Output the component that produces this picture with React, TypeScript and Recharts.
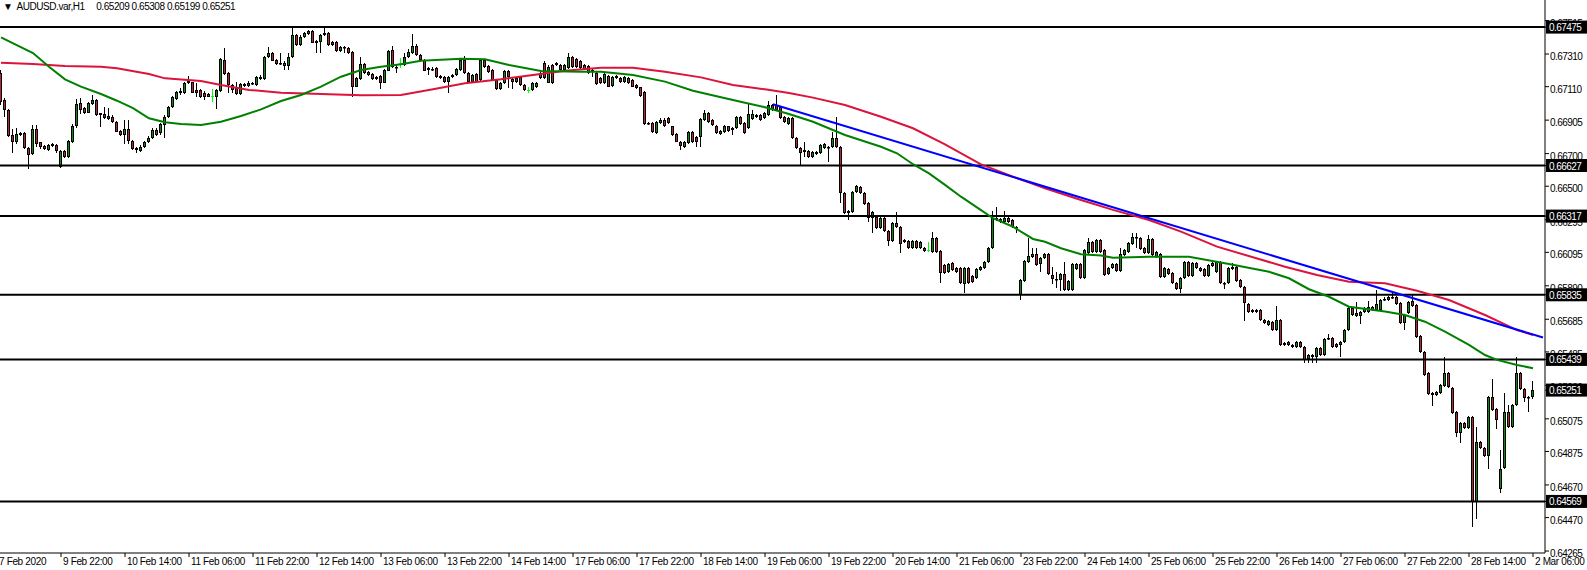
import React from "react";
import { ComposedChart, Bar, Line, XAxis, YAxis, ReferenceLine } from "recharts";

// time axis labels, one every 16 hourly bars
const TIME_LABELS = [
  "7 Feb 2020", "9 Feb 22:00", "10 Feb 14:00", "11 Feb 06:00", "11 Feb 22:00",
  "12 Feb 14:00", "13 Feb 06:00", "13 Feb 22:00", "14 Feb 14:00", "17 Feb 06:00",
  "17 Feb 22:00", "18 Feb 14:00", "19 Feb 06:00", "19 Feb 22:00", "20 Feb 14:00",
  "21 Feb 06:00", "23 Feb 22:00", "24 Feb 14:00", "25 Feb 06:00", "25 Feb 22:00",
  "26 Feb 14:00", "27 Feb 06:00", "27 Feb 22:00", "28 Feb 14:00", "2 Mar 06:00",
];
const TICK_STEP = 16;

const PRICE_TICKS = [
  0.67515, 0.6731, 0.6711, 0.66905, 0.667, 0.665, 0.66295, 0.66095, 0.6589,
  0.65685, 0.65485, 0.6528, 0.65075, 0.64875, 0.6467, 0.6447, 0.64265,
];

// horizontal support / resistance levels
const LEVELS = [0.67475, 0.66627, 0.66317, 0.65835, 0.65439, 0.64569];
const LAST_PRICE = 0.65251;

// H1 candles, [open, high, low, close] in pips (x 0.0001)
const CANDLES: number[][] = [
  [6716, 6721, 6714, 6719.6], [6719.6, 6721, 6700, 6701.9], [6702.9, 6704, 6692.3, 6696.8], [6696.8, 6697.5, 6680, 6681],
  [6681.5, 6684.9, 6670.2, 6676.8], [6676.8, 6685.5, 6675.9, 6681.9], [6681.5, 6683.5, 6680.5, 6682.5], [6682.5, 6683.5, 6672.7, 6673.3],
  [6673.7, 6674.3, 6660.6, 6669.2], [6669.8, 6687.4, 6669, 6684.9], [6684.9, 6687.4, 6674.3, 6675.9], [6676.8, 6677.4, 6673, 6673.9],
  [6674.7, 6675.5, 6672, 6672.7], [6672.3, 6676, 6671.5, 6675.3], [6674.7, 6676.5, 6674, 6675.9], [6675.3, 6676, 6670.5, 6671.6],
  [6662, 6672.3, 6661, 6671.6], [6671.6, 6672.5, 6667, 6668.2], [6668.2, 6678.5, 6667.5, 6677.8], [6677.4, 6688, 6676.5, 6687],
  [6686.6, 6703.7, 6685.5, 6700.4], [6700.9, 6703.9, 6694.1, 6696.8], [6697.8, 6698.5, 6694.5, 6695.1], [6695.1, 6701.9, 6694.7, 6700.9],
  [6700.4, 6706, 6700, 6702.9], [6702.9, 6703.5, 6693, 6693.5], [6694.7, 6695.1, 6686.2, 6693.7], [6694.3, 6698.4, 6691.1, 6691.7],
  [6691.1, 6697.8, 6690.6, 6693.1], [6692.7, 6693.5, 6688.6, 6689.2], [6689.6, 6690.2, 6683, 6683.5], [6683.9, 6684.5, 6680.5, 6681.3],
  [6681.3, 6690.6, 6675.9, 6685.3], [6685.3, 6690.6, 6676, 6678], [6678, 6678.5, 6672, 6672.7], [6673.3, 6673.8, 6670.2, 6671.9],
  [6671.6, 6675, 6671, 6674.3], [6674.1, 6677.5, 6673.5, 6677], [6677, 6680.5, 6676.5, 6679.8], [6679.4, 6685.5, 6679, 6684.5],
  [6684.5, 6685.5, 6681, 6681.5], [6682.5, 6688.6, 6681.5, 6688], [6687.6, 6693.5, 6679.4, 6692.7], [6692.3, 6699, 6692, 6698.4],
  [6698.4, 6705.3, 6698, 6704.5], [6703.5, 6708.6, 6703, 6708], [6707.4, 6710, 6706, 6708.6], [6707, 6713.7, 6706.6, 6713.1],
  [6714.5, 6717.6, 6712.7, 6713.1], [6713.7, 6714.1, 6707, 6707.4], [6709, 6713.1, 6704.5, 6707.4], [6709, 6709.5, 6704, 6704.5],
  [6707.4, 6708.6, 6702.9, 6704.5], [6704.9, 6707.4, 6704.5, 6706.6], [6705, 6709.4, 6701.9, 6705], [6704.9, 6709.5, 6697.2, 6709],
  [6708.6, 6728.5, 6708, 6727.8], [6727.4, 6734.5, 6718, 6718.8], [6719.2, 6719.8, 6707.4, 6712.1], [6712.1, 6712.7, 6707.4, 6709],
  [6710, 6713.7, 6706, 6706.6], [6706.6, 6713, 6706, 6712.5], [6712.5, 6713.5, 6711, 6711.7], [6711.5, 6714.5, 6711, 6713.1],
  [6713.1, 6713.7, 6712, 6712.7], [6712.1, 6717.6, 6711.5, 6716.8], [6715.6, 6718.2, 6715, 6717.2], [6715.6, 6729.6, 6715, 6729],
  [6729, 6735.2, 6728.5, 6731.5], [6731.5, 6732, 6726.5, 6727], [6727.4, 6728, 6724.3, 6724.9], [6725.8, 6731.9, 6724.3, 6725.2],
  [6725.8, 6726.5, 6721.3, 6723.9], [6723.9, 6731.9, 6721.3, 6729], [6729, 6746.8, 6728.5, 6742.7], [6742.7, 6743.5, 6736, 6736.6],
  [6736.6, 6742.5, 6736, 6741.7], [6741.3, 6744.5, 6740.8, 6743.7], [6743.3, 6745.8, 6742.8, 6745.4], [6745.4, 6746, 6737.5, 6738],
  [6739, 6739.5, 6731.5, 6738], [6738.6, 6743.3, 6731.5, 6742.7], [6742.7, 6748.2, 6742, 6744.1], [6743.7, 6744.5, 6736, 6736.6],
  [6738.6, 6739, 6736, 6736.6], [6738.6, 6739, 6732.5, 6733.1], [6733.1, 6736.2, 6732.5, 6735.6], [6735.2, 6736, 6731.5, 6734.5],
  [6734.5, 6735, 6731.3, 6731.9], [6732.5, 6733, 6704.9, 6711.1], [6711.1, 6716.8, 6710.5, 6716.2], [6715.8, 6729, 6715.2, 6724.7],
  [6724.9, 6725.5, 6718.6, 6719.2], [6720.2, 6720.8, 6717.6, 6718.2], [6718.8, 6719.4, 6715, 6715.6], [6717.2, 6717.8, 6715, 6715.6],
  [6717.6, 6718.2, 6709.4, 6713.5], [6713.5, 6722, 6713, 6721.3], [6720.9, 6733.5, 6720.3, 6732.9], [6733.5, 6736, 6722.7, 6723.3],
  [6723.3, 6724, 6719.2, 6722.5], [6725.4, 6728.4, 6722.3, 6725.4], [6724.3, 6731.5, 6723.7, 6729.4], [6729, 6733.9, 6728.4, 6732.5],
  [6731.9, 6743.3, 6731.3, 6736], [6736, 6737, 6730, 6730.5], [6730.5, 6731, 6726.8, 6727.4], [6727.4, 6728, 6720.3, 6720.9],
  [6721.3, 6722.9, 6718.2, 6722.3], [6722, 6723.3, 6720.8, 6721.3], [6722.3, 6723, 6716.6, 6717.2], [6717.6, 6718.2, 6715.6, 6716.2],
  [6716.8, 6717.4, 6713.5, 6714.1], [6714.1, 6717.4, 6707.4, 6716.8], [6716.8, 6718.8, 6716.2, 6718.2], [6718, 6722.3, 6717.4, 6721.7],
  [6721.3, 6728, 6720.8, 6727.4], [6727.4, 6729.8, 6719, 6719.6], [6719.6, 6720.2, 6713.5, 6714.1], [6714.1, 6718.8, 6713.5, 6718.2],
  [6718.8, 6719.4, 6713.5, 6714.1], [6715.1, 6728, 6714.5, 6727.4], [6727.4, 6728, 6722.7, 6723.3], [6723.7, 6724.3, 6719.6, 6720.2],
  [6721.3, 6721.9, 6714.5, 6715.1], [6715.1, 6715.7, 6708.8, 6709.4], [6709.4, 6713.7, 6708.8, 6713.1], [6713.1, 6721.5, 6712.5, 6720.9],
  [6720.9, 6721.5, 6710, 6717.2], [6715.6, 6716.2, 6709.4, 6714.1], [6714.1, 6716.8, 6713.5, 6716.2], [6716.8, 6717.4, 6711.5, 6712.1],
  [6712.1, 6712.7, 6708.4, 6709], [6709, 6711.1, 6707.4, 6709], [6709, 6713.7, 6708.4, 6713.1], [6710.6, 6714.1, 6710, 6713.5],
  [6716.2, 6719.8, 6715.6, 6719.2], [6725.4, 6727, 6715.6, 6716.2], [6713.5, 6724, 6713, 6723.3], [6724.3, 6725, 6712.5, 6713.1],
  [6724.3, 6726, 6723.7, 6725.4], [6724.3, 6725, 6720.7, 6721.3], [6721.3, 6725, 6720.7, 6724.3], [6722.3, 6731.9, 6721.7, 6729],
  [6729, 6729.6, 6722.7, 6723.3], [6727.8, 6728.4, 6722.3, 6722.9], [6727, 6727.6, 6721.7, 6722.3], [6724.3, 6724.9, 6721.1, 6721.7],
  [6723.7, 6724.3, 6719, 6719.6], [6721.3, 6721.9, 6717.2, 6720.2], [6719.6, 6720.2, 6712.1, 6712.7], [6716.2, 6716.8, 6712.5, 6713.1],
  [6713.5, 6719.4, 6712.9, 6718.8], [6717.6, 6718.2, 6710.5, 6711.1], [6711.5, 6717.8, 6711, 6717.2], [6716.2, 6718.2, 6715.6, 6717.6],
  [6716.2, 6716.8, 6713.5, 6714.1], [6714.1, 6717.4, 6713.5, 6716.8], [6716.2, 6716.8, 6712.9, 6713.5], [6715.1, 6715.7, 6710.5, 6711.1],
  [6712.1, 6712.7, 6709.4, 6710], [6710.6, 6711.1, 6704.7, 6705.3], [6707.8, 6708.4, 6687.6, 6688.2], [6688.6, 6689.2, 6687.6, 6688.2],
  [6688.6, 6689.2, 6682.9, 6683.5], [6682.9, 6690.2, 6682.3, 6689.6], [6689, 6692, 6688.4, 6690.6], [6690.6, 6691.7, 6686.4, 6687],
  [6691.7, 6692.3, 6688, 6688.6], [6686.6, 6687.2, 6680.9, 6681.5], [6681.9, 6682.5, 6676.8, 6677.4], [6677.4, 6678, 6672.3, 6674.7],
  [6674.3, 6678, 6673.7, 6677.4], [6676.3, 6684.1, 6675.7, 6683.5], [6683.5, 6684.1, 6676.2, 6676.8], [6680, 6680.6, 6674.3, 6676.8],
  [6680, 6691.7, 6674.3, 6691.1], [6690.6, 6696.8, 6690, 6694.7], [6694.7, 6695.3, 6689, 6689.6], [6690.6, 6691.2, 6687, 6687.6],
  [6687, 6687.6, 6682.3, 6682.9], [6681.9, 6684.5, 6681.3, 6683.9], [6683.5, 6687.6, 6682.9, 6687], [6686.6, 6687.2, 6683.3, 6683.9],
  [6685.5, 6686.1, 6681.3, 6684.5], [6685.5, 6693.3, 6684.9, 6692.7], [6692.7, 6693.3, 6687.6, 6688.2], [6689, 6689.6, 6681.9, 6682.5],
  [6685.5, 6700.4, 6684.9, 6694.1], [6691.1, 6696.8, 6690.5, 6694.1], [6692.7, 6694.3, 6692, 6693.7], [6693.7, 6694.3, 6690, 6690.6],
  [6691.7, 6695.3, 6691, 6694.7], [6693.7, 6702.5, 6693.1, 6699.8], [6699.8, 6700.4, 6696.2, 6696.8], [6699.8, 6706, 6696.2, 6696.8],
  [6698.8, 6699.4, 6691.1, 6691.7], [6692.7, 6693.3, 6689, 6689.6], [6687.9, 6692.6, 6687.3, 6692], [6691.6, 6692.2, 6678.7, 6679.3],
  [6679.3, 6679.9, 6672.6, 6673.2], [6673.6, 6674.2, 6663, 6670.5], [6672.2, 6677.3, 6668.1, 6671.2], [6671.6, 6672.2, 6667.5, 6668.1],
  [6668.1, 6671.8, 6667.5, 6671.2], [6669.5, 6671.8, 6668.9, 6671.2], [6670.1, 6675.8, 6669.5, 6675.2], [6673.6, 6676.3, 6673, 6675.7],
  [6674.2, 6674.8, 6665, 6673.2], [6674.2, 6683.4, 6673.6, 6679.3], [6679.3, 6692.6, 6673.6, 6674.2], [6674.2, 6674.8, 6639.5, 6645.6],
  [6645.6, 6646.2, 6632.8, 6633.4], [6634.8, 6635.4, 6629.3, 6633.8], [6634.4, 6647.3, 6633.8, 6646.7], [6646.7, 6651, 6646, 6650.3],
  [6649.7, 6650.3, 6645, 6645.6], [6645.6, 6646.2, 6638.3, 6638.9], [6639.5, 6640.1, 6628.3, 6630.7], [6630.7, 6635, 6621.1, 6634.4],
  [6631.3, 6632, 6623.6, 6624.2], [6624.6, 6631.3, 6624, 6630.7], [6630.7, 6631.3, 6622, 6622.6], [6622.6, 6623.2, 6613.6, 6616.4],
  [6616.4, 6627.9, 6615.8, 6627.3], [6627.7, 6634.4, 6624.6, 6625.2], [6625.2, 6625.8, 6608.9, 6614.4], [6617, 6617.6, 6615.4, 6616],
  [6616.4, 6617, 6611.7, 6612.3], [6612.3, 6617, 6611.7, 6616.4], [6616.4, 6617, 6611.3, 6611.9], [6611.9, 6616.6, 6611.3, 6616],
  [6611.9, 6612.5, 6609.7, 6610.3], [6611, 6616, 6609.9, 6611], [6609.9, 6622.2, 6609.3, 6618.1], [6618.1, 6618.7, 6609.3, 6609.9],
  [6610.3, 6610.9, 6590.5, 6596.6], [6601.7, 6602.3, 6596, 6596.6], [6597.2, 6602.7, 6596.6, 6602.1], [6602.8, 6603.4, 6598.1, 6598.7],
  [6599.7, 6600.3, 6597, 6597.6], [6599.7, 6600.3, 6589.9, 6590.5], [6589.9, 6600.7, 6584.4, 6600.1], [6600.1, 6600.7, 6589.9, 6590.5],
  [6595.2, 6595.8, 6590.9, 6591.5], [6594, 6599.9, 6593.4, 6599.3], [6598.7, 6601.3, 6598.1, 6600.7], [6600.1, 6604.4, 6599.5, 6603.8],
  [6603.8, 6612.5, 6603.2, 6611.9], [6611.9, 6634.8, 6611.3, 6630.3], [6630.3, 6637.5, 6628.7, 6629.3], [6629.9, 6630.5, 6627.7, 6628.3],
  [6628.3, 6634.8, 6627.7, 6630.3], [6630.3, 6630.9, 6627.3, 6627.9], [6629.3, 6629.9, 6624.6, 6625.2], [6625.2, 6625.8, 6621.1, 6624.2],
  [6583.4, 6593.1, 6580.3, 6592.5], [6591.9, 6604.8, 6591.3, 6604.2], [6603.8, 6618.5, 6603.2, 6607.5], [6606.8, 6611.9, 6606.2, 6608.3],
  [6608.3, 6611.9, 6601.1, 6601.7], [6602.1, 6606.8, 6597.6, 6606.2], [6605.8, 6608.9, 6605.2, 6608.3], [6608.3, 6608.9, 6595.4, 6596],
  [6595.6, 6600.7, 6589.9, 6592.9], [6593, 6597.6, 6587.4, 6592.5], [6592.5, 6596.6, 6585.8, 6596], [6596, 6603.8, 6585.8, 6586.4],
  [6586.4, 6592.5, 6585.8, 6591.9], [6586.4, 6602.7, 6585.8, 6602.1], [6599.3, 6602.7, 6598.7, 6602.1], [6602.1, 6602.7, 6593.4, 6594],
  [6594, 6611.5, 6593.4, 6610.9], [6608.9, 6618.1, 6608.3, 6615.6], [6616, 6616.6, 6609.3, 6609.9], [6609.9, 6617.6, 6609.3, 6617],
  [6617, 6617.6, 6609.3, 6609.9], [6610.9, 6611.5, 6595, 6595.6], [6596, 6600.7, 6595.4, 6600.1], [6599.7, 6602.7, 6599.1, 6602.1],
  [6602.1, 6602.7, 6597.5, 6598.1], [6598.1, 6611.9, 6597.5, 6608.3], [6607.9, 6611.5, 6607.3, 6610.9], [6609.9, 6615.6, 6609.3, 6615],
  [6614.4, 6621.1, 6613.8, 6619.1], [6619.1, 6621.1, 6611.9, 6618.1], [6618.5, 6619.1, 6610.9, 6611.5], [6611.9, 6612.5, 6608.3, 6608.9],
  [6608.9, 6620.3, 6608.3, 6617.7], [6617.7, 6618.3, 6607.3, 6607.9], [6606.8, 6610.5, 6606.2, 6609.9], [6608.3, 6608.9, 6594, 6594.6],
  [6594.6, 6600.3, 6594, 6599.7], [6599.3, 6599.9, 6595.4, 6596], [6596.7, 6597.3, 6589.9, 6590.5], [6590.9, 6591.5, 6586.3, 6586.9],
  [6586.9, 6594.2, 6584.8, 6593.6], [6593.6, 6604.4, 6593, 6603.8], [6603.8, 6604.4, 6594.4, 6595], [6595, 6603.4, 6594.4, 6602.8],
  [6602.8, 6603.4, 6599.1, 6599.7], [6599.7, 6600.3, 6597.7, 6598.3], [6599.1, 6599.7, 6594.4, 6595], [6595, 6602.4, 6594.4, 6601.8],
  [6602.8, 6604.8, 6600.5, 6601.1], [6597.7, 6604.4, 6597.1, 6603.8], [6603.8, 6604.4, 6589.9, 6590.5], [6590.9, 6591.5, 6586.9, 6590.5],
  [6590.9, 6600.3, 6590.3, 6599.7], [6599.1, 6602.8, 6598.5, 6600.7], [6600.7, 6601.3, 6591.6, 6592.2], [6592.6, 6593.2, 6587.9, 6588.5],
  [6588.5, 6589.1, 6567.7, 6578.3], [6577.9, 6578.5, 6572.6, 6573.2], [6573.2, 6575, 6572.6, 6574.2], [6574.2, 6574.8, 6572.6, 6573.2],
  [6574.2, 6574.8, 6567.5, 6568.1], [6568.1, 6568.7, 6565.8, 6566.4], [6565, 6568.3, 6564.4, 6567.7], [6567, 6567.6, 6561.3, 6561.9],
  [6561.9, 6576.6, 6561.3, 6568.1], [6568.1, 6568.7, 6552.2, 6552.8], [6552.8, 6554.8, 6552.2, 6554.2], [6554.8, 6555.4, 6552.2, 6552.8],
  [6552.8, 6553.4, 6550.7, 6551.3], [6551.3, 6555.4, 6550.7, 6554.8], [6554.8, 6555.4, 6551.1, 6551.7], [6551.7, 6552.3, 6541.5, 6543.6],
  [6544, 6547.2, 6541.5, 6546.6], [6546.6, 6547.2, 6541.9, 6545.6], [6545.6, 6551.3, 6541.5, 6550.7], [6550.7, 6551.3, 6546, 6546.6],
  [6546.6, 6556.8, 6546, 6556.2], [6556.2, 6559.5, 6555.6, 6556.8], [6556.8, 6557.4, 6551.1, 6551.7], [6553.2, 6553.8, 6550.7, 6551.3],
  [6552.8, 6555.4, 6545.2, 6554.8], [6554.8, 6562.5, 6554.2, 6561.9], [6561.9, 6575.8, 6561.3, 6575.2], [6575.2, 6575.8, 6570.5, 6571.1],
  [6572.6, 6579.3, 6569.9, 6570.5], [6570.5, 6573.8, 6565.6, 6573.2], [6573.2, 6575.8, 6572.6, 6575.2], [6573.2, 6579.9, 6572.6, 6576.2],
  [6576.2, 6576.8, 6573.6, 6574.2], [6574.2, 6586.4, 6573.6, 6577.9], [6574.2, 6580.9, 6573.6, 6580.3], [6580.3, 6582.4, 6579.7, 6580.7],
  [6580.3, 6583, 6579.7, 6582.4], [6582.4, 6585, 6580.8, 6581.4], [6582.4, 6583, 6577.3, 6577.9], [6578.7, 6579.3, 6565.4, 6566],
  [6566, 6571.7, 6561.9, 6571.1], [6572.1, 6579.9, 6571.5, 6579.3], [6579.9, 6583.4, 6576, 6576.6], [6577.2, 6577.8, 6557.3, 6557.9],
  [6558.3, 6558.9, 6548.1, 6548.7], [6548.7, 6549.3, 6533.8, 6534.4], [6535.4, 6536, 6522.1, 6522.7], [6523.6, 6524.2, 6515.4, 6522.1],
  [6522.1, 6524.8, 6521.5, 6524.2], [6523.6, 6528.8, 6523, 6528.2], [6527.6, 6545.2, 6527, 6535.4], [6535.4, 6536, 6526.2, 6526.8],
  [6526.2, 6526.8, 6510.7, 6511.3], [6511.9, 6512.5, 6496.6, 6499], [6499, 6505.4, 6492.9, 6504.8], [6504.8, 6505.4, 6501.1, 6501.7],
  [6501.7, 6509.4, 6501.1, 6508.8], [6508.8, 6509.4, 6441, 6456.8], [6456.8, 6502.7, 6446, 6493.5], [6493.5, 6494.1, 6488.8, 6489.4],
  [6489.4, 6490, 6484.2, 6484.8], [6484.8, 6521.7, 6476.6, 6521.1], [6521.1, 6531.7, 6512.3, 6512.9], [6513.3, 6513.9, 6501.1, 6506.8],
  [6464.3, 6488.4, 6461.9, 6476.6], [6477.2, 6523.6, 6476.6, 6511.9], [6511.9, 6516, 6502.1, 6502.7], [6502.7, 6516.6, 6502.1, 6516],
  [6516, 6545.6, 6515.4, 6535.4], [6535.4, 6536, 6525, 6525.6], [6525.6, 6526.2, 6518, 6520.1], [6520.7, 6521.3, 6511.9, 6520.1],
  [6520.9, 6530.8, 6519.9, 6525.1],
];

// moving averages: [bar index, pips]
const GREEN_MA = [
  [1, 6741.2], [9, 6731.6], [13, 6723.2], [17, 6715.5], [21, 6711], [26, 6706.5], [30, 6702.4], [34, 6697.9],
  [38, 6691.6], [42, 6689.2], [46, 6688.1], [51, 6687.5], [56, 6689.5], [61, 6693], [66, 6697.1], [71, 6702.2],
  [76, 6705.9], [81, 6711], [86, 6717.1], [91, 6721.2], [96, 6723.2], [101, 6724.7], [106, 6726.9], [116, 6728.1],
  [122, 6727.8], [128, 6724.3], [136, 6720.6], [146, 6720.2], [151, 6720.2], [159, 6718.2], [167, 6714.1], [174, 6708.5],
  [181, 6704.5], [187, 6701.2], [192, 6698.4], [198, 6694.3], [204, 6689.5], [212, 6681.4], [221, 6674.2], [225, 6670.2],
  [229, 6663.5], [233, 6657.9], [237, 6650.8], [241, 6643.6], [246, 6635.4], [249, 6630.4], [254, 6625.2], [259, 6617.7],
  [262, 6616], [266, 6612], [271, 6608.3], [276, 6607.5], [279, 6606.2], [288, 6606.8], [298, 6606.8], [308, 6602.4],
  [318, 6597.6], [323, 6593.6], [328, 6586.9], [333, 6582.3], [338, 6576.2], [347, 6573.2], [352, 6571.1], [357, 6567],
  [362, 6560.9], [368, 6552.8], [372, 6546.6], [375, 6543.6], [380, 6540.5], [384, 6538.5],
];
const RED_MA = [
  [1, 6725.7], [9, 6724.9], [17, 6723.7], [26, 6723.2], [30, 6722.3], [38, 6718.8], [42, 6716.1], [51, 6714.5],
  [56, 6712], [63, 6709], [71, 6707.3], [81, 6706.5], [91, 6705.7], [101, 6705.9], [109, 6709.4], [117, 6713.1],
  [126, 6715.5], [134, 6718.2], [142, 6720.8], [151, 6722.6], [159, 6722.6], [167, 6720.2], [176, 6716.7], [184, 6712],
  [192, 6709.4], [198, 6707.1], [204, 6704.3], [212, 6699.8], [221, 6692.6], [229, 6685.5], [237, 6675.7], [246, 6663.4],
  [254, 6655.9], [262, 6648.8], [271, 6641.6], [279, 6635.5], [288, 6629.3], [296, 6622.2], [305, 6613], [322, 6600.7],
  [330, 6595.6], [338, 6591.5], [347, 6590.5], [355, 6586], [363, 6580.3], [372, 6571.1], [380, 6561.9], [384, 6558.9],
];
// blue trend line end points: [bar index, pips]
const TREND = [[194, 6700.2], [386.5, 6557.3]];

const PIP = 10000;
const BULL = "#0b8a0b";
const BEAR = "#b2283a";
const AXIS_FONT = "'Liberation Sans', Arial, sans-serif";
const BOXED = [...LEVELS, LAST_PRICE];

const candleData = CANDLES.map(([o, h, l, c], i) => ({
  i,
  o: o / PIP,
  h: h / PIP,
  l: l / PIP,
  c: c / PIP,
  range: [l / PIP, h / PIP],
}));
const toLine = (pts: number[][]) => pts.map(([i, p]) => ({ i, v: p / PIP }));

const CandleShape = (props: any) => {
  const { x, y, width, height, payload } = props;
  if (!payload || height == null || isNaN(y)) return null;
  const { o, h, l, c } = payload;
  const span = h - l || 1e-9;
  const py = (p: number) => y + ((h - p) / span) * height;
  const cx = Math.floor(x + width / 2) + 0.5;
  const yh = Math.round(py(h));
  const yl = Math.round(py(l));
  const top = Math.round(py(Math.max(o, c)));
  const bot = Math.round(py(Math.min(o, c)));
  if (o === c) {
    return (
      <g>
        <line x1={cx} x2={cx} y1={yh} y2={yl} stroke="#00ff00" />
        <line x1={cx - 1.5} x2={cx + 1.5} y1={top + 0.5} y2={top + 0.5} stroke="#00ff00" />
      </g>
    );
  }
  return (
    <g>
      <line x1={cx} x2={cx} y1={yh} y2={yl} stroke="#000" />
      <rect
        x={cx - 1}
        y={top + 0.5}
        width={2}
        height={Math.max(bot - top - 1, 0.5)}
        fill={c > o ? BULL : BEAR}
        stroke="#000"
        strokeWidth={1}
      />
    </g>
  );
};

// plain price labels, and black boxes for the level / last price ticks (drawn last, on top)
const PriceTick = ({ x, y, payload }: any) => {
  const v = payload.value;
  const text = v.toFixed(5);
  if (BOXED.includes(v)) {
    return (
      <g>
        <rect x={x - 4} y={y - 6.5} width={41} height={13} fill="#000" />
        <text x={x - 1} y={y + 4} fill="#fff" fontSize={10} fontFamily={AXIS_FONT} letterSpacing={-0.55}>
          {text}
        </text>
      </g>
    );
  }
  return (
    <text x={x} y={y + 6} fill="#000" fontSize={10} fontFamily={AXIS_FONT} letterSpacing={-0.55}>
      {text}
    </text>
  );
};

const TimeTick = ({ x, y, payload }: any) => (
  <text x={x + 2} y={y + 8} fill="#000" fontSize={10} fontFamily={AXIS_FONT} letterSpacing={-0.35}>
    {TIME_LABELS[Math.round(payload.value / TICK_STEP)]}
  </text>
);

export default function App() {
  return (
    <div style={{ position: "relative", width: 1587, height: 570, background: "#fff" }}>
      <style>{"body{margin:0}"}</style>
      <ComposedChart
        width={1587}
        height={570}
        data={candleData}
        margin={{ top: 0, right: 0, bottom: 0, left: 0 }}
      >
        <XAxis
          dataKey="i"
          type="number"
          domain={[0.75, 387]}
          allowDataOverflow
          ticks={TIME_LABELS.map((_, k) => k * TICK_STEP)}
          tick={<TimeTick />}
          tickSize={4}
          tickMargin={0}
          height={17}
          stroke="#000"
          axisLine={{ stroke: "#000" }}
          tickLine={{ stroke: "#000" }}
          interval={0}
        />
        <YAxis
          orientation="right"
          type="number"
          domain={[0.64253, 0.67641]}
          allowDataOverflow
          ticks={[...PRICE_TICKS, ...BOXED]}
          tick={<PriceTick />}
          tickSize={4}
          tickMargin={1}
          width={42}
          axisLine={{ stroke: "#000" }}
          tickLine={{ stroke: "#000" }}
          interval={0}
        />
        {LEVELS.map((lv) => (
          <ReferenceLine key={lv} y={lv} stroke="#000" strokeWidth={2} />
        ))}
        <Bar dataKey="range" barSize={3} shape={<CandleShape />} isAnimationActive={false} />
        <Line data={toLine(RED_MA)} dataKey="v" stroke="#dc143c" strokeWidth={2} strokeLinecap="butt" dot={false} activeDot={false} isAnimationActive={false} />
        <Line data={toLine(GREEN_MA)} dataKey="v" stroke="#008000" strokeWidth={2} strokeLinecap="butt" dot={false} activeDot={false} isAnimationActive={false} />
        <Line data={toLine(TREND)} dataKey="v" stroke="#0000ff" strokeWidth={2} strokeLinecap="butt" dot={false} activeDot={false} isAnimationActive={false} />
      </ComposedChart>
      <div
        style={{
          position: "absolute",
          left: 3,
          top: 1,
          fontFamily: AXIS_FONT,
          fontSize: 10,
          letterSpacing: -0.45,
          color: "#000",
          whiteSpace: "pre",
        }}
      >
        {"\u25BC  AUDUSD.var,H1     0.65209 0.65308 0.65199 0.65251"}
      </div>
    </div>
  );
}
